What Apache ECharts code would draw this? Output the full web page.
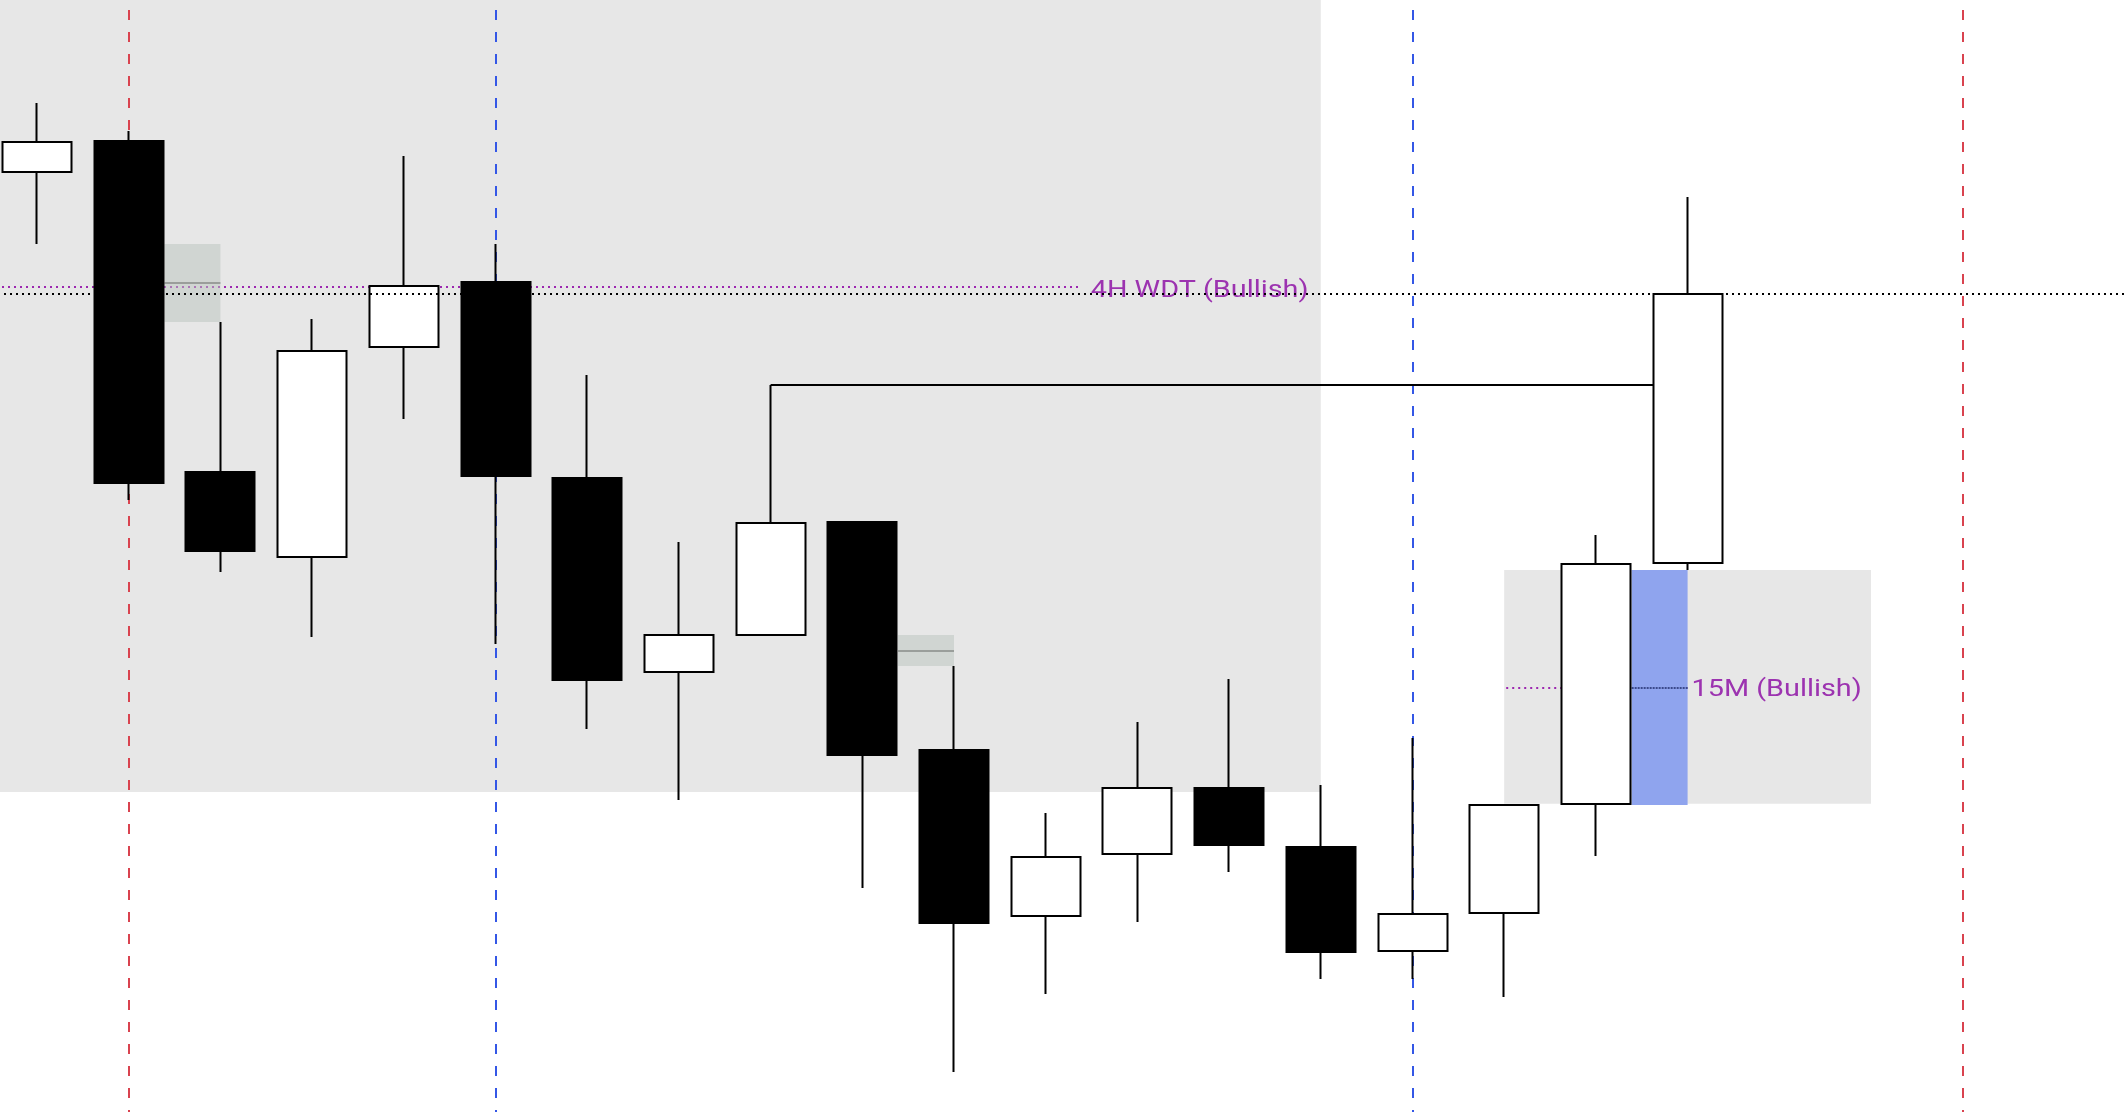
<!DOCTYPE html>
<html>
<head>
<meta charset="utf-8">
<script src="https://cdn.jsdelivr.net/npm/echarts@6/dist/echarts.min.js"></script>
<style>
html,body{margin:0;padding:0;background:#ffffff;}
#chart{width:2124px;height:1112px;}
</style>
</head>
<body>
<div id="chart"></div>
<script>
// ---- data (arbitrary price scale, no axes shown) ----
const candleX = [0,1,2,3,4,5,6,7,8,9,10,11,12,13,14,15,16,17,18];
const opens  = [5235.0, 5242.75, 5160.0, 5138.75, 5191.25, 5207.5, 5158.5, 5110.0, 5119.25, 5147.5, 5090.5, 5049.0, 5064.5, 5081.0, 5066.25, 5040.25, 5049.75, 5077.0, 5137.25];
const closes = [5242.5, 5157.25, 5140.25, 5190.25, 5206.5, 5159.0, 5108.0, 5119.25, 5147.25, 5089.25, 5047.25, 5063.75, 5081.0, 5066.75, 5040.0, 5049.5, 5076.75, 5137.0, 5204.5];
const lows   = [5217.0, 5153.0, 5135.0, 5118.75, 5173.25, 5117.0, 5095.75, 5078.0, 5119.25, 5056.0, 5010.0, 5029.5, 5047.5, 5060.0, 5033.25, 5033.25, 5028.75, 5064.0, 5135.5];
const highs  = [5252.25, 5245.25, 5197.5, 5198.25, 5239.0, 5217.0, 5184.25, 5142.5, 5181.75, 5147.5, 5111.5, 5074.75, 5097.5, 5108.25, 5081.75, 5093.5, 5076.75, 5144.25, 5228.75];

const redSessionLines = [1, 21];
const blueSessionLines = [5, 15];
const premiumLow = 5080;
const premiumEndX = 14;
const wdtLevel = 5206.25;
const wdtEndX = 11.36;
const wdtLabel = '4H WDT (Bullish)';
const m15Label = '15M (Bullish)';
const bearFvgMiddles = [1, 9];
const bullFvgMiddle = 17;
const zoneFromX = 16, zoneToX = 20;
const swingFrom = 8, swingTo = 18;

// ---- view ----
const X_MIN = -0.4035, X_MAX = 22.759, Y_MIN = 5000, Y_MAX = 5278;
const HALF = 0.39; // half candle body in index units

const candleData = candleX.map((x, i) => [x, opens[i], closes[i], lows[i], highs[i]]);

const none = { show: false };
const dottedPurple = { color: '#9c27b0', width: 2, type: [2, 4], dashOffset: 4 };

const bearBoxes = bearFvgMiddles.map(m => [
  { xAxis: m + HALF, yAxis: highs[m + 1] },
  { xAxis: m + 1, yAxis: lows[m - 1] }
]);
const bearMids = bearFvgMiddles.map(m => {
  const mid = (highs[m + 1] + lows[m - 1]) / 2;
  return [{ coord: [m + HALF, mid] }, { coord: [m + 1, mid] }];
});
const bullLo = highs[bullFvgMiddle - 1], bullHi = lows[bullFvgMiddle + 1];
const bullMid = (bullLo + bullHi) / 2;

function vline(x, color) {
  return [
    { coord: [x, Y_MAX], lineStyle: { color: color, width: 2, type: [10, 12], dashOffset: 12 } },
    { coord: [x, Y_MIN] }
  ];
}

const chart = echarts.init(document.getElementById('chart'), null, { renderer: 'canvas' });

const option = {
  animation: false,
  backgroundColor: '#ffffff',
  grid: { left: 0, right: 0, top: 0, bottom: 0 },
  xAxis: { type: 'value', min: X_MIN, max: X_MAX, show: false, splitLine: none },
  yAxis: { type: 'value', min: Y_MIN, max: Y_MAX, show: false, splitLine: none, scale: true },
  series: [
    { // background zones
      type: 'line', data: [], silent: true,
      markArea: {
        z: 1, silent: true, label: none,
        itemStyle: { color: '#e7e7e7' },
        data: [
          [{ xAxis: X_MIN, yAxis: premiumLow }, { xAxis: premiumEndX, yAxis: Y_MAX }],
          [{ xAxis: zoneFromX, yAxis: bullLo + 0.3 }, { xAxis: zoneToX, yAxis: bullHi }]
        ]
      }
    },
    { // session verticals
      type: 'line', data: [], silent: true,
      markLine: {
        z: 2, silent: true, symbol: 'none', label: none,
        data: redSessionLines.map(x => vline(x, '#d9434f')).concat(blueSessionLines.map(x => vline(x, '#3457e6')))
      }
    },
    { // purple dotted levels
      type: 'line', data: [], silent: true,
      markLine: {
        z: 3, silent: true, symbol: 'none', label: none,
        lineStyle: dottedPurple,
        data: [
          [{ coord: [X_MIN, wdtLevel] }, { coord: [wdtEndX, wdtLevel] }],
          [{ coord: [zoneFromX, bullMid] }, { coord: [bullFvgMiddle + 1, bullMid] }]
        ]
      }
    },
    { // FVG boxes
      type: 'line', data: [], silent: true,
      markArea: {
        z: 4, silent: true, label: none,
        itemStyle: { color: 'rgba(185,195,189,0.5)' },
        data: bearBoxes.concat([
          [{ xAxis: bullFvgMiddle + HALF, yAxis: bullLo, itemStyle: { color: '#8fa4ee' } },
           { xAxis: bullFvgMiddle + 1, yAxis: bullHi }]
        ])
      }
    },
    { // FVG midlines
      type: 'line', data: [], silent: true,
      markLine: {
        z: 5, silent: true, symbol: 'none', label: none,
        lineStyle: { color: '#9a9e9b', width: 2, type: 'solid' },
        data: bearMids.concat([
          [{ coord: [bullFvgMiddle + HALF, bullMid], lineStyle: { color: '#3b4a8c', width: 2, type: [2, 1] } },
           { coord: [bullFvgMiddle + 1, bullMid] }]
        ])
      }
    },
    { // swing high line
      type: 'line', data: [], silent: true,
      markLine: {
        z: 6, silent: true, symbol: 'none', label: none,
        lineStyle: { color: '#000000', width: 2, type: 'solid' },
        data: [[{ coord: [swingFrom, highs[swingFrom]] }, { coord: [swingTo, highs[swingFrom]] }]]
      }
    },
    {
      type: 'candlestick',
      z: 10,
      silent: true,
      barWidth: 69.5,
      encode: { x: 0, y: [1, 2, 3, 4] },
      data: candleData,
      itemStyle: {
        color: '#ffffff', color0: '#000000',
        borderColor: '#000000', borderColor0: '#000000',
        borderWidth: 2
      }
    },
    { // current price line
      type: 'line', data: [], silent: true,
      markLine: {
        z: 12, silent: true, symbol: 'none', label: none,
        lineStyle: { color: '#000000', width: 2, type: [2, 4], dashOffset: 2 },
        data: [[{ coord: [X_MIN, closes[closes.length - 1]] }, { coord: [X_MAX, closes[closes.length - 1]] }]]
      }
    }
  ]
};
chart.setOption(option);

const p1 = chart.convertToPixel({ gridIndex: 0 }, [wdtEndX, wdtLevel]);
const p2 = chart.convertToPixel({ gridIndex: 0 }, [bullFvgMiddle + 1, bullMid]);
const textStyle = (t) => ({
  text: t, fill: '#9c33b0', fontSize: 24, fontFamily: 'Roboto',
  align: 'left', textAlign: 'left', verticalAlign: 'middle', textVerticalAlign: 'middle'
});
chart.setOption({
  graphic: [
    { type: 'text', x: p1[0] + 12, y: p1[1] + 4, scaleX: 1.2, z: 11, silent: true, style: textStyle(wdtLabel) },
    { type: 'text', x: p2[0] + 4, y: p2[1] + 2, scaleX: 1.2, z: 11, silent: true, style: textStyle(m15Label) }
  ]
});
</script>
</body>
</html>
